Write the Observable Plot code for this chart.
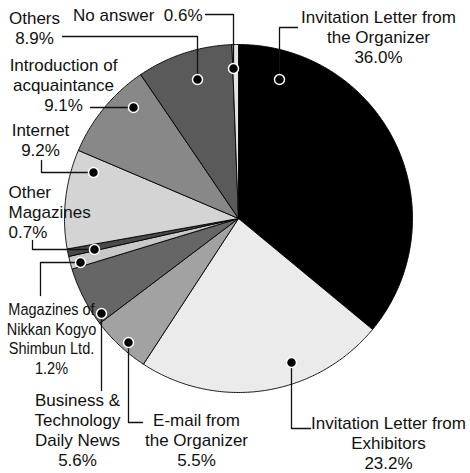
<!DOCTYPE html>
<html>
<head>
<meta charset="utf-8">
<script src="https://cdn.jsdelivr.net/npm/d3@7"></script>
<script src="https://cdn.jsdelivr.net/npm/@observablehq/plot@0.6"></script>
<style>
  html, body { margin: 0; padding: 0; background: #fff; }
  #chart svg { display: block; }
</style>
</head>
<body>
<div id="chart"></div>
<script>
// ---- data (clockwise from 12 o'clock) ----
const categories = [
  "Invitation Letter from\nthe Organizer",
  "Invitation Letter from\nExhibitors",
  "E-mail from\nthe Organizer",
  "Business &\nTechnology\nDaily News",
  "Magazines of\nNikkan Kogyo\nShimbun Ltd.",
  "Other\nMagazines",
  "Internet",
  "Introduction of\nacquaintance",
  "Others",
  "No answer"
];
const values = [36.0, 23.2, 5.5, 5.6, 1.2, 0.7, 9.2, 9.1, 8.9, 0.6];

// ---- styles / layout (not data) ----
const sliceColors = ["#000000", "#ebebeb", "#a2a2a2", "#666666", "#c9c9c9",
                     "#4a4a4a", "#d4d4d4", "#888888", "#5a5a5a", "#e4e4e4"];
const W = 470, H = 473;
const CX = 238, CY = 218, R = 174;
// per-category label layout: dot, leader elbow points, text anchor point
const layout = [
  {dot: [279, 79],  path: [[279, 27], [297, 27]],  tx: 378, ty: 62,  anchor: "middle"},
  {dot: [291, 362], path: [[291, 428], [310, 428]], tx: 388, ty: 468, anchor: "middle"},
  {dot: [128, 342], path: [[128, 422], [142, 422]], tx: 196, ty: 465, anchor: "middle"},
  {dot: [101, 313], path: [[101, 390]],            tx: 77,  ty: 465, anchor: "middle"},
  {dot: [80, 262],  path: [[40, 262], [40, 295]],  tx: 51,  ty: 373, anchor: "middle", narrow: true},
  {dot: [94, 249],  path: [[32, 249], [32, 240]],  tx: 8,   ty: 237, anchor: "start"},
  {dot: [93, 172],  path: [[41, 172], [41, 160]],  tx: 40,  ty: 155, anchor: "middle"},
  {dot: [133, 107], path: [[90, 107]],             tx: 63,  ty: 110, anchor: "middle"},
  {dot: [197, 79],  path: [[197, 36], [62, 36]],   tx: 34,  ty: 43,  anchor: "middle"},
  {dot: [233, 68],  path: [[233, 14], [205, 14]],  tx: 202, ty: 20,  anchor: "end", inline: true}
];

const fmt = v => v.toFixed(1) + "%";
const rows = categories.map((c, i) => ({category: c, value: values[i]}));

// pie geometry through d3.pie
const arcs = d3.pie().sort(null).value(d => d.value)(rows);
const slicePts = [];
arcs.forEach((a, i) => {
  const key = a.data.category;
  slicePts.push({key, x: CX, y: CY});
  const steps = Math.max(2, Math.ceil((a.endAngle - a.startAngle) / 0.01));
  for (let k = 0; k <= steps; k++) {
    const t = a.startAngle + (a.endAngle - a.startAngle) * k / steps;
    slicePts.push({key, x: CX + R * Math.sin(t), y: CY - R * Math.cos(t)});
  }
  slicePts.push({key, x: CX, y: CY});
});

// leader lines
const leaderPts = [];
layout.forEach((l, i) => {
  leaderPts.push({id: i, x: l.dot[0], y: l.dot[1]});
  l.path.forEach(p => leaderPts.push({id: i, x: p[0], y: p[1]}));
});
const dots = layout.map((l, i) => ({x: l.dot[0], y: l.dot[1]}));

const labels = rows.map((r, i) => {
  const l = layout[i];
  const name = r.category;
  const text = l.inline ? name + "\u00a0\u00a0" + fmt(r.value) : name + "\n" + fmt(r.value);
  return {text, x: l.tx, y: l.ty, anchor: l.anchor, narrow: !!l.narrow};
});

const font = "'Liberation Sans', Arial, sans-serif";
const FS = 17;
const textMark = (data, anchor, opts) => Plot.text(data, {
  x: "x", y: "y", text: "text", textAnchor: anchor, lineAnchor: "bottom",
  fill: "#111", ...opts
});

const chart = Plot.plot({
  width: W, height: H,
  margin: 0,
  x: {domain: [0, W], range: [0, W], axis: null},
  y: {domain: [0, H], range: [0, H], axis: null},
  color: {domain: categories, range: sliceColors},
  style: {fontFamily: font, background: "#fff"},
  marks: [
    Plot.line(slicePts, {x: "x", y: "y", z: "key", fill: "key", stroke: "#000", strokeWidth: 0.9, strokeLinejoin: "round"}),
    Plot.line(leaderPts, {x: "x", y: "y", z: "id", stroke: "#111", strokeWidth: 1.3}),
    Plot.dot(dots, {x: "x", y: "y", r: 5, fill: "#000", stroke: "#fff", strokeWidth: 1.5}),
    textMark(labels.filter(d => !d.narrow && d.anchor === "middle"), "middle", {fontSize: FS, lineHeight: 20 / FS}),
    textMark(labels.filter(d => !d.narrow && d.anchor === "start"), "start", {fontSize: FS, lineHeight: 20 / FS}),
    textMark(labels.filter(d => !d.narrow && d.anchor === "end"), "end", {fontSize: FS, lineHeight: 20 / FS}),
    textMark(labels.filter(d => d.narrow), "middle", {fontSize: 16.5, lineHeight: 19.5 / 16.5})
  ]
});
// condense the narrow label horizontally (it is set in a condensed face in the original)
d3.select(chart).selectAll("text").filter(function () {
  return this.textContent.includes("Nikkan");
}).attr("transform", function () {
  return (this.getAttribute("transform") || "") + " scale(0.88,1)";
});
document.getElementById("chart").appendChild(chart);
</script>
</body>
</html>
